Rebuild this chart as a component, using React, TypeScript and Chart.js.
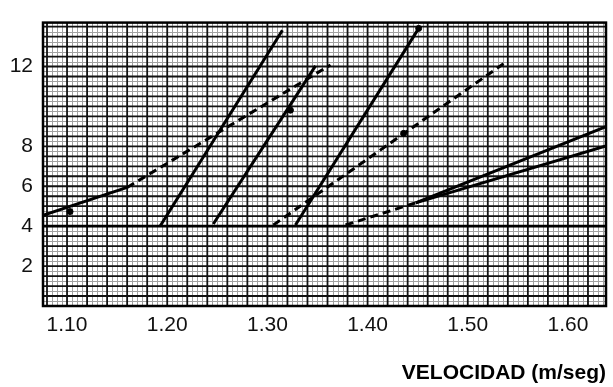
import React, { useEffect, useRef } from 'react';
import { Chart, registerables } from 'chart.js';

Chart.register(...registerables);

// Axis ticks (labels only at these values)
const X_TICKS = [1.1, 1.2, 1.3, 1.4, 1.5, 1.6];
const Y_TICKS = [2, 4, 6, 8, 12];
const X_MIN = 1.076;
const X_MAX = 1.638;
const Y_MIN = 0;
const Y_MAX = 14.2;

// Series (velocidad, valor)
const LINE_A_SOLID = [{ x: 1.076, y: 4.54 }, { x: 1.16, y: 5.94 }];
const LINE_A_DASHED = [{ x: 1.16, y: 5.94 }, { x: 1.363, y: 12.08 }];
const LINE_B = [{ x: 1.193, y: 4.01 }, { x: 1.315, y: 13.82 }];
const LINE_C = [{ x: 1.246, y: 4.11 }, { x: 1.348, y: 12.03 }];
const LINE_D = [{ x: 1.328, y: 4.06 }, { x: 1.451, y: 13.91 }];
const LINE_E_DASHED = [{ x: 1.306, y: 4.06 }, { x: 1.538, y: 12.22 }];
const LINE_G_DASHED = [{ x: 1.378, y: 4.06 }, { x: 1.448, y: 5.17 }];
const LINE_F = [{ x: 1.448, y: 5.17 }, { x: 1.638, y: 8.99 }];
const LINE_G = [{ x: 1.448, y: 5.17 }, { x: 1.638, y: 8.02 }];
const REF_LINE_4 = [{ x: 1.076, y: 4 }, { x: 1.638, y: 4 }];
const DOTS = [{ x: 1.103, y: 4.73 }, { x: 1.323, y: 9.81 }, { x: 1.451, y: 13.91 }, { x: 1.436, y: 8.65 }];

const FONT = 'Liberation Sans, Arial, Helvetica, sans-serif';

const paperGrid = {
  id: 'paperGrid',
  beforeDatasetsDraw(chart: any) {
    const { ctx, chartArea: a, scales } = chart;
    const xs = scales.x;
    const ys = scales.y;
    ctx.save();
    ctx.beginPath();
    ctx.rect(a.left, a.top, a.right - a.left, a.bottom - a.top);
    ctx.clip();
    // minor lines
    ctx.strokeStyle = '#a0a0a0';
    ctx.lineWidth = 1;
    ctx.beginPath();
    for (let i = Math.ceil(X_MIN / 0.005); i <= Math.floor(X_MAX / 0.005); i++) {
      if (i % 4 === 0) continue;
      const px = Math.round(xs.getPixelForValue(i * 0.005)) + 0.5;
      ctx.moveTo(px, a.top);
      ctx.lineTo(px, a.bottom);
    }
    for (let k = 0; k <= Math.floor(Y_MAX / 0.25); k++) {
      if (k % 2 === 0) continue;
      const py = Math.round(ys.getPixelForValue(k * 0.25)) + 0.5;
      ctx.moveTo(a.left, py);
      ctx.lineTo(a.right, py);
    }
    ctx.stroke();
    // major lines
    ctx.strokeStyle = '#111';
    ctx.lineWidth = 1.8;
    ctx.beginPath();
    for (let i = Math.ceil(X_MIN / 0.02); i <= Math.floor(X_MAX / 0.02); i++) {
      const px = xs.getPixelForValue(i * 0.02);
      ctx.moveTo(px, a.top);
      ctx.lineTo(px, a.bottom);
    }
    for (let k = 0; k <= Math.floor(Y_MAX / 0.5); k++) {
      const py = ys.getPixelForValue(k * 0.5);
      ctx.moveTo(a.left, py);
      ctx.lineTo(a.right, py);
    }
    ctx.stroke();
    ctx.restore();
  },
  afterDatasetsDraw(chart: any) {
    const { ctx, chartArea: a } = chart;
    ctx.save();
    ctx.strokeStyle = '#000';
    ctx.lineWidth = 2.5;
    ctx.strokeRect(a.left, a.top, a.right - a.left, a.bottom - a.top);
    ctx.restore();
  },
};

function lineDs(data: any[], dashed: boolean, width = 3) {
  return {
    data,
    borderColor: '#000',
    backgroundColor: '#000',
    borderWidth: width,
    borderDash: dashed ? [8, 5] : [],
    pointRadius: 0,
    showLine: true,
    fill: false,
    tension: 0,
  };
}

export default function App() {
  const ref = useRef<HTMLCanvasElement | null>(null);

  useEffect(() => {
    document.body.style.margin = '0';
    if (!ref.current) return;
    const chart = new Chart(ref.current, {
      type: 'line',
      data: {
        datasets: [
          lineDs(REF_LINE_4, false, 2.6),
          lineDs(LINE_A_SOLID, false),
          lineDs(LINE_A_DASHED, true),
          lineDs(LINE_B, false),
          lineDs(LINE_C, false),
          lineDs(LINE_D, false),
          lineDs(LINE_E_DASHED, true),
          lineDs(LINE_G_DASHED, true),
          lineDs(LINE_F, false),
          lineDs(LINE_G, false),
          {
            data: DOTS,
            showLine: false,
            pointRadius: 3,
            pointBackgroundColor: '#000',
            pointBorderColor: '#000',
            borderColor: '#000',
          },
        ] as any,
      },
      options: {
        responsive: false,
        animation: false,
        layout: { padding: { top: 12, right: 7, left: 0, bottom: 0 } },
        plugins: { legend: { display: false }, tooltip: { enabled: false } },
        scales: {
          x: {
            type: 'linear',
            min: X_MIN,
            max: X_MAX,
            grid: { display: false, drawTicks: false },
            border: { display: false },
            afterBuildTicks: (s: any) => {
              s.ticks = X_TICKS.map((v) => ({ value: v }));
            },
            afterFit: (s: any) => {
              s.height = 81;
            },
            ticks: {
              autoSkip: false,
              maxRotation: 0,
              padding: 7,
              color: '#111',
              font: { family: FONT, size: 21 },
              callback: (v: any) => Number(v).toFixed(2),
            },
            title: {
              display: true,
              text: 'VELOCIDAD (m/seg)',
              align: 'end',
              color: '#000',
              font: { family: FONT, size: 21, weight: 'bold' },
              padding: { top: 0, bottom: 1 },
            },
          },
          y: {
            type: 'linear',
            min: Y_MIN,
            max: Y_MAX,
            grid: { display: false, drawTicks: false },
            border: { display: false },
            afterBuildTicks: (s: any) => {
              s.ticks = Y_TICKS.map((v) => ({ value: v }));
            },
            afterFit: (s: any) => {
              s.width = 43;
            },
            ticks: {
              autoSkip: false,
              padding: 10,
              color: '#111',
              font: { family: FONT, size: 21 },
              callback: (v: any) => String(Math.round(Number(v))),
            },
          },
        },
      },
      plugins: [paperGrid],
    } as any);
    return () => chart.destroy();
  }, []);

  return (
    <div style={{ width: 613, height: 387 }}>
      <canvas ref={ref} width={613} height={387} style={{ display: 'block' }} />
    </div>
  );
}
